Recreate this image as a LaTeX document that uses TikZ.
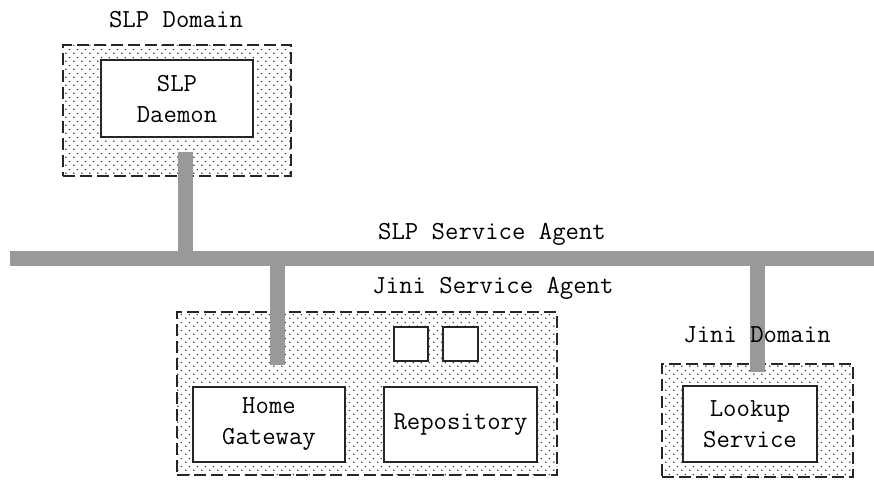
\documentclass[tikz,border=0pt]{standalone}
\usepackage{fontspec}
\usetikzlibrary{patterns}
% staggered dot fill: two dots per 8pt tile
\pgfdeclarepatternformonly{sparsedots}{\pgfpointorigin}{\pgfpoint{8pt}{8pt}}{\pgfpoint{8pt}{8pt}}{%
  \pgfpathcircle{\pgfpoint{2pt}{2pt}}{0.85pt}%
  \pgfpathcircle{\pgfpoint{6pt}{6pt}}{0.85pt}\pgfusepath{fill}}
\definecolor{busgray}{HTML}{999999}
\tikzset{
  txt/.style={font=\ttfamily\fontsize{26}{31}\selectfont, inner sep=0pt, align=center},
  areabox/.style={draw=black!85, line width=2pt, dash pattern=on 12pt off 5pt,
    pattern=sparsedots, pattern color=black!85, inner sep=0pt},
  unit/.style={txt, draw=black!85, line width=1.8pt, fill=white},
  bar/.style={draw=busgray, line width=15pt},
}
\begin{document}
\begin{tikzpicture}[x=1pt, y=-1pt]
  \useasboundingbox (0,0) rectangle (874,479);

  % domain areas
  \node[areabox, minimum width=228pt, minimum height=131pt] (slpdom) at (177,110.5) {};
  \node[areabox, minimum width=380pt, minimum height=163pt] (jinisa) at (367,393.5) {};
  \node[areabox, minimum width=191pt, minimum height=113pt] (jinidom) at (757.5,420.5) {};

  % components
  \node[unit, minimum width=152pt, minimum height=77pt] (daemon) at (177,98.5) {SLP\\Daemon};
  \node[unit, minimum width=152pt, minimum height=75pt] (gateway) at (269,424.5) {Home\\Gateway};
  \node[unit, minimum width=153pt, minimum height=75pt] (repo) at (460.5,424.5) {Repository};
  \node[unit, minimum width=134pt, minimum height=76pt] (lookup) at (750,424) {Lookup\\Service};
  \node[unit, minimum width=34pt, minimum height=34pt] (sq1) at (411,344) {};
  \node[unit, minimum width=35pt, minimum height=34pt] (sq2) at (460.5,344) {};

  % shared bus and its taps
  \coordinate (busL) at (10,258.5);
  \coordinate (busR) at (874,258.5);
  \coordinate (slptap) at (185.5,152);
  \coordinate (gwtap) at (277.5,365);
  \coordinate (jinitap) at (757.5,372);
  \draw[bar] (busL) -- (busR);
  \draw[bar] (slptap) -- (slptap |- busL);
  \draw[bar] (gwtap |- busL) -- (gwtap);
  \draw[bar] (jinitap |- busL) -- (jinitap);

  % labels
  \node[txt] (lslpdom) at (176,20) {SLP Domain};
  \node[txt] (lslpsa) at (492,234) {SLP Service Agent};
  \node[txt] (ljinisa) at (493,288) {Jini Service Agent};
  \node[txt] (ljinidom) at (757,335) {Jini Domain};
\end{tikzpicture}
\end{document}
